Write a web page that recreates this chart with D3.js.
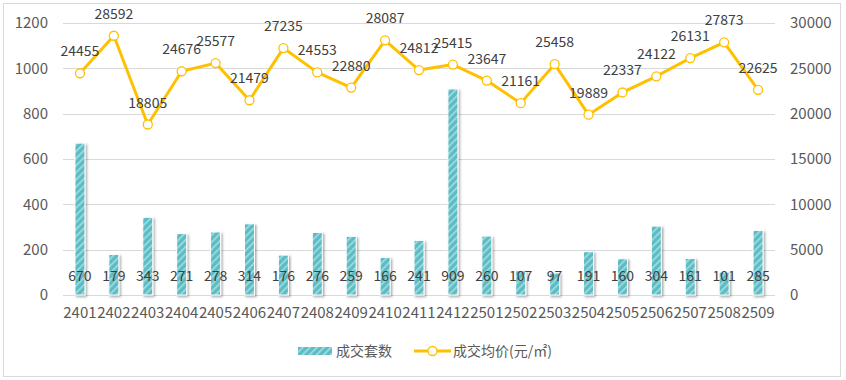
<!DOCTYPE html>
<html>
<head>
<meta charset="utf-8">
<script src="https://cdn.jsdelivr.net/npm/d3@7"></script>
<style>
  body { margin: 0; background: #fff; }
  svg text { font-family: "Noto Sans CJK SC", "Noto Sans", sans-serif; }
</style>
</head>
<body>
<svg id="chart" width="846" height="380"></svg>
<script>
// data
const months = ["2401","2402","2403","2404","2405","2406","2407","2408","2409","2410","2411","2412",
                "2501","2502","2503","2504","2505","2506","2507","2508","2509"];
const deals = [670,179,343,271,278,314,176,276,259,166,241,909,260,107,97,191,160,304,161,101,285];
const avgPrice = [24455,28592,18805,24676,25577,21479,27235,24553,22880,28087,24812,25415,
                  23647,21161,25458,19889,22337,24122,26131,27873,22625];
const leftTicks = [0,200,400,600,800,1000,1200];
const rightTicks = [0,5000,10000,15000,20000,25000,30000];

const svg = d3.select("#chart");
const plot = {left: 63, right: 775, top: 23, bottom: 295};

const barColor = "#5bbcc4";
const lineColor = "#ffc000";
const textColor = "#404040";

// chart frame
svg.append("rect")
  .attr("x", 3.5).attr("y", 3.5)
  .attr("width", 837).attr("height", 373)
  .attr("fill", "#fff")
  .attr("stroke", "#d9d9d9");

// --------------------------------------------------
// DEFS
// --------------------------------------------------
const defs = svg.append("defs");

const pat = defs.append("pattern")
  .attr("id", "stripes")
  .attr("patternUnits", "userSpaceOnUse")
  .attr("width", 5).attr("height", 5)
  .attr("patternTransform", "rotate(45)");
pat.append("rect").attr("width", 5).attr("height", 5).attr("fill", barColor);
pat.append("rect").attr("width", 1.6).attr("height", 5).attr("fill", "#a6dde1");

const shadow = defs.append("filter")
  .attr("id", "shadow")
  .attr("x", "-50%").attr("y", "-10%")
  .attr("width", "200%").attr("height", "130%");
shadow.append("feDropShadow")
  .attr("dx", 1.5).attr("dy", 1.5)
  .attr("stdDeviation", 1.2)
  .attr("flood-color", "#000")
  .attr("flood-opacity", 0.35);

// --------------------------------------------------
// SCALES
// --------------------------------------------------
const x = d3.scaleBand()
  .domain(months)
  .range([plot.left, plot.right]);

const yL = d3.scaleLinear().domain([0, 1200]).range([plot.bottom, plot.top]);
const yR = d3.scaleLinear().domain([0, 30000]).range([plot.bottom, plot.top]);

// gridlines
svg.append("g")
  .selectAll("line")
  .data(leftTicks)
  .enter()
  .append("line")
  .attr("x1", plot.left).attr("x2", plot.right)
  .attr("y1", d => Math.round(yL(d)) + 0.5)
  .attr("y2", d => Math.round(yL(d)) + 0.5)
  .attr("stroke", "#d9d9d9");

// left axis
const leftAxis = svg.append("g")
  .attr("transform", `translate(${plot.left},0)`)
  .call(d3.axisLeft(yL).tickValues(leftTicks).tickFormat(d3.format("d")).tickSize(0).tickPadding(15));
leftAxis.select(".domain").remove();
leftAxis.selectAll("text")
  .attr("font-size", 15)
  .attr("fill", "#595959")
  .style("font-family", "'Noto Sans CJK SC', sans-serif");

// right axis
const rightAxis = svg.append("g")
  .attr("transform", `translate(${plot.right},0)`)
  .call(d3.axisRight(yR).tickValues(rightTicks).tickFormat(d3.format("d")).tickSize(0).tickPadding(15));
rightAxis.select(".domain").remove();
rightAxis.selectAll("text")
  .attr("font-size", 15)
  .attr("fill", "#595959")
  .style("font-family", "'Noto Sans CJK SC', sans-serif");

// bottom axis
const bottomAxis = svg.append("g")
  .attr("transform", `translate(0,${plot.bottom})`)
  .call(d3.axisBottom(x).tickSize(0).tickPadding(12));
bottomAxis.select(".domain").remove();
bottomAxis.selectAll("text")
  .attr("font-size", 15)
  .attr("fill", "#595959")
  .style("font-family", "'Noto Sans CJK SC', sans-serif");

// --------------------------------------------------
// BARS
// --------------------------------------------------
const barW = 10;

svg.append("g")
  .selectAll("rect")
  .data(deals)
  .enter()
  .append("rect")
  .attr("x", (d, i) => x(months[i]) + x.bandwidth() / 2 - barW / 2)
  .attr("y", d => yL(d))
  .attr("width", barW)
  .attr("height", d => yL(0) - yL(d))
  .attr("fill", "url(#stripes)")
  .attr("stroke", "#fff")
  .attr("stroke-width", 1)
  .attr("filter", "url(#shadow)");

svg.append("g")
  .selectAll("text")
  .data(deals)
  .enter()
  .append("text")
  .attr("x", (d, i) => x(months[i]) + x.bandwidth() / 2)
  .attr("y", 281)
  .attr("text-anchor", "middle")
  .attr("font-size", 14)
  .attr("fill", textColor)
  .text(d => d);

// --------------------------------------------------
// LINE
// --------------------------------------------------
const line = d3.line()
  .x((d, i) => x(months[i]) + x.bandwidth() / 2)
  .y(d => yR(d));

svg.append("path")
  .datum(avgPrice)
  .attr("d", line)
  .attr("fill", "none")
  .attr("stroke", lineColor)
  .attr("stroke-width", 3)
  .attr("stroke-linejoin", "round");

svg.append("g")
  .selectAll("circle")
  .data(avgPrice)
  .enter()
  .append("circle")
  .attr("cx", (d, i) => x(months[i]) + x.bandwidth() / 2)
  .attr("cy", d => yR(d))
  .attr("r", 4.5)
  .attr("fill", "#fff")
  .attr("stroke", lineColor)
  .attr("stroke-width", 1.3);

svg.append("g")
  .selectAll("text")
  .data(avgPrice)
  .enter()
  .append("text")
  .attr("x", (d, i) => x(months[i]) + x.bandwidth() / 2)
  .attr("y", d => yR(d) - 17)
  .attr("text-anchor", "middle")
  .attr("font-size", 14)
  .attr("fill", textColor)
  .text(d => d);

// --------------------------------------------------
// LEGEND
// --------------------------------------------------
const legend = svg.append("g").attr("transform", "translate(298,351)");

legend.append("rect")
  .attr("x", 0).attr("y", -4)
  .attr("width", 34).attr("height", 8)
  .attr("fill", "url(#stripes)");
legend.append("text")
  .attr("x", 38).attr("y", 5)
  .attr("font-size", 14)
  .attr("fill", "#595959")
  .text("成交套数");

legend.append("line")
  .attr("x1", 116).attr("x2", 153)
  .attr("y1", 0).attr("y2", 0)
  .attr("stroke", lineColor)
  .attr("stroke-width", 3);
legend.append("circle")
  .attr("cx", 134.5).attr("cy", 0).attr("r", 4.5)
  .attr("fill", "#fff")
  .attr("stroke", lineColor)
  .attr("stroke-width", 1.3);
legend.append("text")
  .attr("x", 155).attr("y", 5)
  .attr("font-size", 14)
  .attr("fill", "#595959")
  .text("成交均价(元/㎡)");
</script>
</body>
</html>
